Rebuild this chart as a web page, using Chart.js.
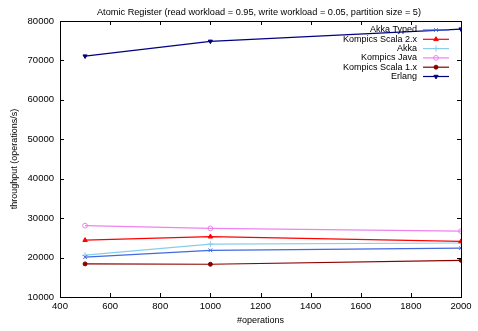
<!DOCTYPE html>
<html>
<head>
<meta charset="utf-8">
<script src="https://cdn.jsdelivr.net/npm/chart.js@4"></script>
<style>
  html, body { margin: 0; padding: 0; background: #fff; }
</style>
</head>
<body>
<canvas id="chart" width="478" height="331"></canvas>
<script>
const operations = [500, 1000, 2000];
const seriesNames = ['Akka Typed', 'Kompics Scala 2.x', 'Akka', 'Kompics Java', 'Kompics Scala 1.x', 'Erlang'];
const akkaTyped = [20100, 21850, 22400];
const kompicsScala2 = [24400, 25300, 24100];
const akka = [20600, 23400, 23700];
const kompicsJava = [28100, 27400, 26700];
const kompicsScala1 = [18400, 18300, 19300];
const erlang = [71100, 74850, 77950];
const titleText = 'Atomic Register (read workload = 0.95, write workload = 0.05, partition size = 5)';

const FONT = '"Liberation Sans", Arial, Helvetica, sans-serif';

function makeSet(label, values, color, style, opts) {
    return Object.assign({
        label: label,
        data: values.map((v, i) => ({ x: operations[i], y: v })),
        borderColor: color,
        backgroundColor: color,
        pointBorderColor: color,
        pointBackgroundColor: color,
        pointStyle: style,
        pointRadius: 2.6,
        pointBorderWidth: 1,
        borderWidth: 1.2,
        fill: false,
        tension: 0
    }, opts || {});
}

const datasets = [
    makeSet(seriesNames[0], akkaTyped, '#4169e1', 'crossRot'),
    makeSet(seriesNames[1], kompicsScala2, '#ff0000', 'triangle'),
    makeSet(seriesNames[2], akka, '#87ceeb', 'cross', { pointRadius: 3 }),
    makeSet(seriesNames[3], kompicsJava, '#ee82ee', 'circle', { pointBackgroundColor: 'rgba(255,255,255,0)', pointRadius: 2.4 }),
    makeSet(seriesNames[4], kompicsScala1, '#8b0000', 'circle', { pointRadius: 2 }),
    makeSet(seriesNames[5], erlang, '#000080', 'triangle', { pointRotation: 180, pointRadius: 2.4 })
];

// inward ticks on all four sides plus title and in-plot legend, gnuplot style
const gnuplotDecor = {
    id: 'gnuplotDecor',
    afterDatasetsDraw(chart) {
        const c = chart.ctx;
        const a = chart.chartArea;
        const xs = chart.scales.x, ys = chart.scales.y;
        c.save();
        c.strokeStyle = '#000';
        c.lineWidth = 1;
        c.beginPath();
        xs.ticks.forEach(t => {
            const px = Math.round(xs.getPixelForValue(t.value)) + 0.5;
            c.moveTo(px, a.bottom); c.lineTo(px, a.bottom - 4);
            c.moveTo(px, a.top); c.lineTo(px, a.top + 4);
        });
        ys.ticks.forEach(t => {
            const py = Math.round(ys.getPixelForValue(t.value)) + 0.5;
            c.moveTo(a.left, py); c.lineTo(a.left + 4, py);
            c.moveTo(a.right, py); c.lineTo(a.right - 4, py);
        });
        c.stroke();
        c.strokeRect(Math.round(a.left) + 0.5, Math.round(a.top) + 0.5,
            Math.round(a.right - a.left), Math.round(a.bottom - a.top));

        // title
        c.fillStyle = '#000';
        c.font = '9.2px ' + FONT;
        c.textAlign = 'center';
        c.textBaseline = 'middle';
        c.fillText(titleText, 259, 12);

        // legend
        c.font = '9px ' + FONT;
        c.textAlign = 'right';
        chart.data.datasets.forEach((ds, i) => {
            const y = 30 + i * 9.3;
            c.fillStyle = '#000';
            c.fillText(ds.label, 417, y);
            c.strokeStyle = ds.borderColor;
            c.lineWidth = 1.2;
            c.beginPath();
            c.moveTo(423, y); c.lineTo(449, y);
            c.stroke();
            c.fillStyle = ds.pointBackgroundColor;
            c.strokeStyle = ds.pointBorderColor;
            c.lineWidth = 1;
            Chart.helpers.drawPoint(c, {
                pointStyle: ds.pointStyle,
                rotation: ds.pointRotation || 0,
                radius: ds.pointRadius,
                borderWidth: 1
            }, 436, y);
        });
        c.restore();
    }
};

const ctx = document.getElementById('chart').getContext('2d');
const chart = new Chart(ctx, {
    type: 'line',
    data: { datasets: datasets },
    options: {
        responsive: false,
        animation: false,
        devicePixelRatio: 1,
        layout: { padding: { top: 21, right: 17, left: 0, bottom: 0 } },
        plugins: { legend: { display: false }, tooltip: { enabled: false } },
        scales: {
            x: {
                type: 'linear',
                min: 400, max: 2000,
                ticks: { stepSize: 200, autoSkip: false, color: '#000', font: { family: FONT, size: 9.5 }, padding: 4, maxRotation: 0,
                    callback: v => String(v) },
                grid: { display: false, drawTicks: false },
                border: { display: false },
                title: { display: true, text: '#operations', color: '#000', font: { family: FONT, size: 9 }, padding: { top: 0, bottom: 5 } },
                afterFit(scale) { scale.height = 34; }
            },
            y: {
                min: 10000, max: 80000,
                ticks: { stepSize: 10000, autoSkip: false, color: '#000', font: { family: FONT, size: 9.5 }, padding: 6,
                    callback: v => String(v) },
                grid: { display: false, drawTicks: false },
                border: { display: false },
                title: { display: true, text: 'throughput (operations/s)', color: '#000', font: { family: FONT, size: 9 }, padding: { top: 9, bottom: 0 } },
                afterFit(scale) { scale.width = 60; }
            }
        }
    },
    plugins: [gnuplotDecor]
});
</script>
</body>
</html>
